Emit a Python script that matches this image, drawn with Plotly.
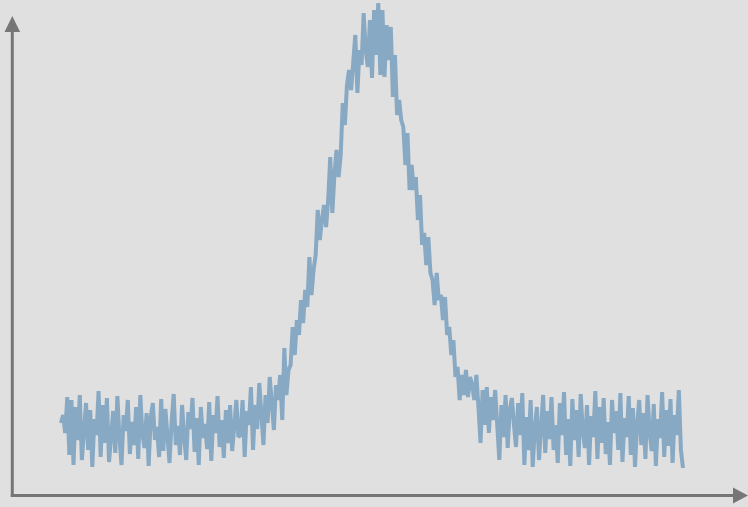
import plotly.graph_objects as go

# Noisy single-peak signal, amplitude per sample (arbitrary units)
baseline_left = [
    72, 80, 62, 98, 40, 95, 30, 88, 55, 100, 35, 70, 92, 45, 85, 28, 76, 60, 104, 38,
    90, 52, 97, 33, 66, 84, 42, 99, 58, 30, 80, 64, 95, 41, 73, 50, 88, 36, 100, 61,
    47, 82, 29, 78, 92, 55, 68, 38, 96, 44, 86, 63, 32, 74, 101, 50, 69, 40, 90, 58,
    35, 83, 66, 97, 43, 77, 30, 88, 57, 71, 46, 93, 34, 80, 62, 99, 48, 75, 37, 85,
    52, 90, 44, 68, 95, 58,
]
onset = [
    60, 95, 38, 84, 70, 108, 45, 90, 66, 112, 78, 50, 100, 72, 118, 85, 65, 110, 95, 120,
    75, 147, 100, 125,
]
rise = [
    130, 168, 140, 175, 160, 195, 172, 205, 188, 238, 200, 225, 240, 285, 255, 275, 290, 268,
    295, 338, 282, 320, 345, 318,
]
peak = [
    340, 392, 370, 410, 425, 405, 428, 460, 402, 445, 430, 482, 445, 428, 475, 417, 485, 440,
    492, 420, 485, 418, 470, 435, 468, 398, 440, 380, 395, 375, 368, 330, 362, 305,
]
fall = [
    330, 305, 318, 275, 300, 250, 262, 230, 258, 222, 215, 190, 222, 195, 200, 175, 198, 160,
    168, 140, 155, 118, 128, 95, 120, 100, 125, 98, 118,
]
baseline_right = [
    110, 95, 120, 88, 52, 105, 70, 108, 62, 98, 75, 105, 64, 35, 90, 58, 100, 47, 85, 97,
    70, 48, 92, 60, 102, 30, 78, 45, 95, 28, 66, 88, 35, 72, 100, 42, 84, 56, 98, 45,
    70, 32, 92, 60, 103, 40, 76, 29, 96, 55, 85, 38, 101, 64, 47, 90, 30, 79, 58, 104,
    36, 88, 52, 97, 41, 73, 30, 95, 62, 84, 45, 102, 33, 77, 58, 99, 40, 87, 28, 70,
    95, 50, 82, 36, 100, 63, 44, 91, 29, 76, 57, 103, 38, 85, 49, 96, 32, 80, 60, 105,
    45, 27,
]

signal = baseline_left + onset + rise + peak + fall + baseline_right
samples = list(range(len(signal)))

W, H = 748, 507
BG = "#e0e0e0"
AXIS = "#767676"
LINE = "#88a9c4"

# horizontal placement: first sample at x=61px, last at x=683px
px_first, px_last = 61.0, 683.0
step = (px_last - px_first) / (len(signal) - 1)
x_range = [-px_first / step, (W - px_first) / step]
# vertical placement: amplitude 0 sits at y=495px
y_range = [495 - H, 495]

fig = go.Figure(
    go.Scatter(
        x=samples,
        y=signal,
        mode="lines",
        line=dict(color=LINE, width=4),
        hoverinfo="skip",
    )
)


def px(x):
    return x / W


def py(y):
    return 1 - y / H


shapes = [
    # y axis shaft and arrowhead
    dict(type="line", xref="paper", yref="paper",
         x0=px(12.3), y0=py(497), x1=px(12.3), y1=py(30),
         line=dict(color=AXIS, width=3)),
    dict(type="path", xref="paper", yref="paper",
         path=f"M {px(4.5)} {py(32)} L {px(20.1)} {py(32)} L {px(12.3)} {py(16)} Z",
         fillcolor=AXIS, line=dict(width=0)),
    # x axis shaft and arrowhead
    dict(type="line", xref="paper", yref="paper",
         x0=px(10.8), y0=py(495.5), x1=px(735), y1=py(495.5),
         line=dict(color=AXIS, width=3)),
    dict(type="path", xref="paper", yref="paper",
         path=f"M {px(733)} {py(487.5)} L {px(733)} {py(503.5)} L {px(748)} {py(495.5)} Z",
         fillcolor=AXIS, line=dict(width=0)),
]

fig.update_layout(
    width=W,
    height=H,
    margin=dict(l=0, r=0, t=0, b=0),
    paper_bgcolor=BG,
    plot_bgcolor=BG,
    showlegend=False,
    shapes=shapes,
    xaxis=dict(range=x_range, visible=False, fixedrange=True),
    yaxis=dict(range=y_range, visible=False, fixedrange=True),
)

fig.write_html("out.html", config={"displayModeBar": False})
